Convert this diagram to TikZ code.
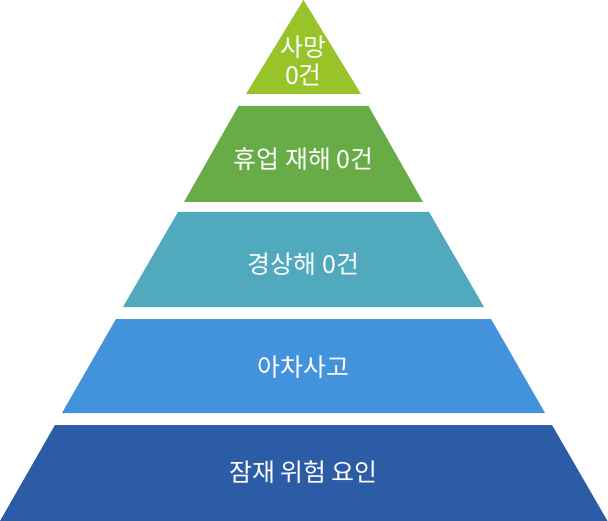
\documentclass[tikz,border=0pt]{standalone}
\usepackage{fontspec}
\newfontfamily\krfont{Noto Sans CJK KR}
\definecolor{cA}{RGB}{152,196,42}
\definecolor{cB}{RGB}{104,172,72}
\definecolor{cC}{RGB}{81,169,189}
\definecolor{cD}{RGB}{67,146,220}
\definecolor{cE}{RGB}{43,92,165}
\tikzset{
  lbl/.style={text=white, font=\krfont\fontsize{25}{28}\selectfont, align=center, inner sep=0pt},
}
\begin{document}
\begin{tikzpicture}[x=1bp,y=-1bp]
\useasboundingbox (0,0) rectangle (608,521);
% level 1 (triangle)
\fill[cA] (303.5,0) -- (361,94) -- (246,94) -- cycle;
% level 2
\fill[cB] (238.5,106) -- (368.5,106) -- (423,202) -- (184,202) -- cycle;
% level 3
\fill[cC] (178,212) -- (429,212) -- (484,307) -- (123,307) -- cycle;
% level 4
\fill[cD] (116,319) -- (491,319) -- (545,413) -- (62,413) -- cycle;
% level 5
\fill[cE] (55,425) -- (552,425) -- (607.5,521) -- (0,521) -- cycle;
\node[lbl] (t1) at (303.5,61) {사망\\0건};
\node[lbl] (t2) at (303.5,159) {휴업 재해 0건};
\node[lbl] (t3) at (303.5,264) {경상해 0건};
\node[lbl] (t4) at (303.5,367) {아차사고};
\node[lbl] (t5) at (303.5,472) {잠재 위험 요인};
\end{tikzpicture}
\end{document}
